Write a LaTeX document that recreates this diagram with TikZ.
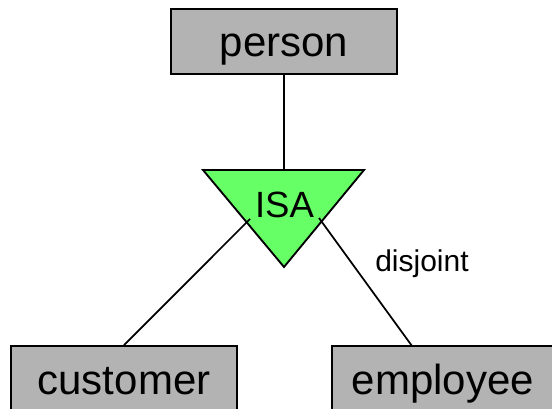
\documentclass[tikz,border=0pt]{standalone}
\usepackage{fontspec}
\setmainfont{Liberation Sans}
\definecolor{boxgray}{RGB}{179,179,179}
\definecolor{isagreen}{RGB}{102,255,102}
\begin{document}
\begin{tikzpicture}[x=0.75pt,y=-0.75pt,
  entity/.style={draw=black, line width=1.4pt, fill=boxgray, anchor=base,
    minimum height=48.75pt, text height=23.25pt, text depth=0pt, inner sep=0pt,
    font=\fontsize{31.5}{36}\selectfont},
  conn/.style={draw=black, line width=1.3pt},
  isalbl/.style={anchor=base, inner sep=0pt, font=\fontsize{27.4}{32}\selectfont},
  note/.style={anchor=base, inner sep=0pt, font=\fontsize{22.5}{26}\selectfont}]
\useasboundingbox (0,0) rectangle (552,409);
\clip (0,0) rectangle (552,409);
\fill[white] (0,0) rectangle (552,409);
% entities
\node[entity, minimum width=169.5pt] (person) at (284,57) {person};
\node[entity, minimum width=169.5pt] (customer) at (124,394) {customer};
\node[entity, minimum width=166.5pt] (employee) at (443,394) {employee};
% ISA triangle
\coordinate (triL) at (203,170);
\coordinate (triR) at (364,170);
\coordinate (triB) at (284,267);
\coordinate (triTop) at (284,170);
\coordinate (isaLeft) at (250,219);
\coordinate (isaRight) at (319,218);
\coordinate (empTop) at (412,346);
\filldraw[fill=isagreen, draw=black, line width=1.4pt, line join=miter] (triL) -- (triR) -- (triB) -- cycle;
% connectors
\draw[conn] (person.south) -- (triTop);
\draw[conn] (customer.north) -- (isaLeft);
\draw[conn] (empTop) -- (isaRight);
% labels
\node[isalbl] (isa) at (284.5,218) {ISA};
\node[note] (disj) at (422,272) {disjoint};
\end{tikzpicture}
\end{document}
